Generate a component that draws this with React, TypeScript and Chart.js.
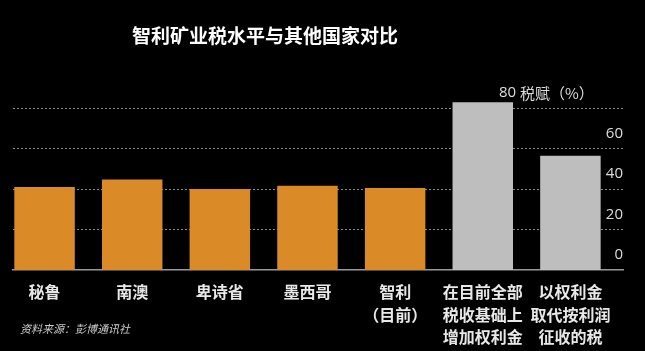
import React, { useEffect, useRef } from "react";
import { Chart, registerables } from "chart.js";

Chart.register(...registerables);

const TITLE = "智利矿业税水平与其他国家对比";
const SOURCE = "资料来源：彭博通讯社";
const CATEGORIES: string[][] = [
  ["秘鲁"],
  ["南澳"],
  ["卑诗省"],
  ["墨西哥"],
  ["智利", "（目前）"],
  ["在目前全部", "税收基础上", "增加权利金"],
  ["以权利金", "取代按利润", "征收的税"],
];
const VALUES: number[] = [41, 44.7, 40, 41.7, 40.6, 83, 56.5];
const BAR_COLORS: string[] = ["#DA8A26", "#DA8A26", "#DA8A26", "#DA8A26", "#DA8A26", "#BEBEBE", "#BEBEBE"];
const Y_TICKS: number[] = [0, 20, 40, 60, 80];
const Y_UNIT = "税赋（%）";

const textPlugin = {
  id: "textPlugin",
  afterDraw(chart: any) {
    const ctx = chart.ctx;
    const y = chart.scales.y;
    const area = chart.chartArea;
    ctx.save();
    ctx.fillStyle = "#ffffff";
    ctx.font = "bold 19px 'Noto Sans CJK SC'";
    ctx.textAlign = "left";
    ctx.textBaseline = "middle";
    ctx.fillText(TITLE, 132, 36);
    ctx.font = "15px 'Open Sans'";
    ctx.fillStyle = "#dddddd";
    Y_TICKS.forEach((v) => {
      const py = y.getPixelForValue(v) - 15;
      if (v === Y_TICKS[Y_TICKS.length - 1]) {
        ctx.textAlign = "left";
        ctx.fillText(String(v), 499, py);
        const w = ctx.measureText(String(v) + " ").width;
        ctx.font = "15px 'Noto Sans CJK SC'";
        ctx.fillText(Y_UNIT, 499 + w, py);
        ctx.font = "15px 'Open Sans'";
      } else {
        ctx.textAlign = "right";
        ctx.fillText(String(v), area.right, py);
      }
    });
    ctx.font = "italic 11px 'Noto Sans CJK SC'";
    ctx.fillStyle = "#cccccc";
    ctx.textAlign = "left";
    ctx.fillText(SOURCE, 20, 329);
    ctx.restore();
  },
};

export default function App() {
  const ref = useRef<HTMLCanvasElement>(null);
  useEffect(() => {
    if (!ref.current) return;
    const chart = new Chart(ref.current, {
      type: "bar",
      data: {
        datasets: [
          {
            data: VALUES.map((v, i) => ({ x: i, y: v })),
            backgroundColor: BAR_COLORS,
            borderWidth: 0,
            categoryPercentage: 1,
            barPercentage: 0.69,
          },
        ],
      },
      options: {
        animation: false,
        responsive: false,
        maintainAspectRatio: false,
        layout: { padding: { top: 88, left: 13, right: 22, bottom: 0 } },
        plugins: { legend: { display: false }, tooltip: { enabled: false }, title: { display: false } },
        scales: {
          x: {
            type: "linear",
            offset: false,
            min: -0.36,
            max: 6.6,
            afterBuildTicks: (scale: any) => {
              scale.ticks = CATEGORIES.map((_, i) => ({ value: i }));
            },
            afterFit: (scale: any) => {
              scale.height = 81;
            },
            grid: { display: false, drawTicks: false, offset: false },
            border: { display: true, color: "#999999", width: 1.5 },
            ticks: {
              padding: 11,
              autoSkip: false,
              maxRotation: 0,
              color: "#e8e8e8",
              font: { family: "'Noto Sans CJK SC'", size: 16, weight: "bold", lineHeight: 1.4 },
              callback: (v: any) => CATEGORIES[Math.round(v)] ?? "",
            },
          },
          y: {
            position: "right",
            min: 0,
            max: 90,
            afterBuildTicks: (scale: any) => {
              scale.ticks = Y_TICKS.filter((v) => v > 0).map((v) => ({ value: v }));
            },
            afterFit: (scale: any) => {
              scale.width = 0;
            },
            ticks: { display: false },
            border: { display: false, dash: [2, 2] },
            grid: { color: "#8a8a8a", lineWidth: 1, drawTicks: false },
          },
        },
      },
      plugins: [textPlugin],
    });
    return () => chart.destroy();
  }, []);
  return (
    <div style={{ position: "fixed", left: 0, top: 0, width: 645, height: 351, background: "#000" }}>
      <canvas ref={ref} width={645} height={351} style={{ display: "block", width: 645, height: 351 }} />
    </div>
  );
}
